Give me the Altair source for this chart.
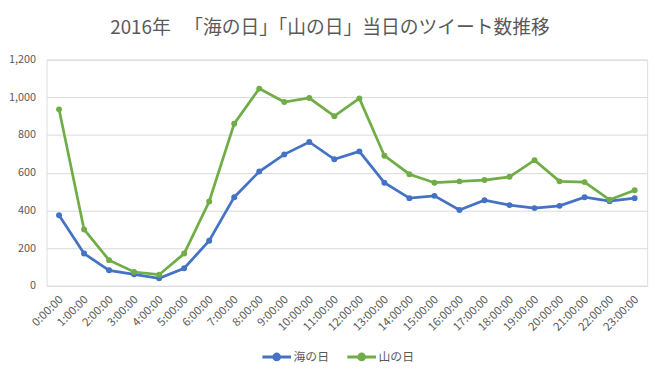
import altair as alt
import pandas as pd

hours = [f"{h}:00:00" for h in range(24)]
umi = [374, 171, 82, 61, 40, 93, 239, 470, 606, 697, 763, 671,
       713, 547, 465, 477, 402, 454, 428, 412, 424, 470, 449, 465]
yama = [936, 299, 136, 73, 59, 171, 447, 860, 1046, 975, 996, 900,
        994, 690, 592, 547, 554, 561, 578, 666, 554, 550, 456, 507]
series = ["海の日", "山の日"]
colors = ["#4472C4", "#70AD47"]

rows = []
for i, h in enumerate(hours):
    rows.append({"hour": h, "series": series[0], "value": umi[i]})
    rows.append({"hour": h, "series": series[1], "value": yama[i]})
df = pd.DataFrame(rows)

FONT = "Noto Sans CJK JP"
TXT = "#595959"

x = alt.X("hour:N", sort=hours, title=None,
          scale=alt.Scale(type="point", padding=0.5),
          axis=alt.Axis(labelAngle=-45, labelAlign="right", labelBaseline="middle",
                        labelPadding=12, labelOffset=2, ticks=False, domain=False, grid=False,
                        labelFontSize=11.5, labelColor=TXT, labelFont=FONT))
y = alt.Y("value:Q", title=None,
          scale=alt.Scale(domain=[0, 1200], nice=False),
          axis=alt.Axis(values=[0, 200, 400, 600, 800, 1000, 1200], format=",.0f",
                        ticks=False, domain=False, grid=True, gridColor="#d9d9d9",
                        labelPadding=11, labelFontSize=11, labelColor=TXT, labelFont=FONT))
color = alt.Color("series:N", sort=series,
                  scale=alt.Scale(domain=series, range=colors),
                  legend=alt.Legend(title=None, orient="none", direction="horizontal",
                                    legendX=217, legendY=285,
                                    symbolType="M-1,0L1,0M-0.2,0A0.2,0.2,0,1,1,0.2,0A0.2,0.2,0,1,1,-0.2,0Z",
                                    symbolSize=841, symbolStrokeWidth=3,
                                    labelFontSize=12, labelColor=TXT, labelFont=FONT,
                                    labelOffset=1, columnPadding=11))

base = alt.Chart(df).encode(x=x, y=y, color=color)
lines = base.mark_line(strokeWidth=2.75)
points = base.mark_point(filled=True, size=36, opacity=1)

chart = alt.layer(lines, points).properties(
    width=608, height=229,
    autosize=alt.AutoSizeParams(type="none"),
    padding={"left": 39, "top": 50, "right": 13, "bottom": 80},
    title=alt.TitleParams("2016年 　「海の日」「山の日」当日のツイート数推移",
                          font=FONT, fontSize=19, fontWeight="normal", color=TXT,
                          anchor="middle", dx=-17, offset=16),
).configure_view(stroke=None).configure(background="white")

chart.save("out.html", embed_options={"renderer": "svg", "actions": False})
